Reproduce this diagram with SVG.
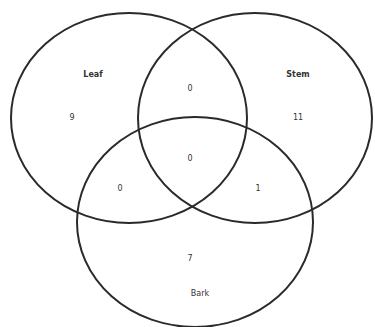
<svg xmlns="http://www.w3.org/2000/svg" width="375" height="327" viewBox="0 0 375 327">
<style>
.set{fill:none;stroke:#2a2a2a;stroke-width:2}
text{font-family:"DejaVu Sans","Liberation Sans",sans-serif;font-size:8px;fill:#333;text-anchor:middle}
.lbl{font-weight:bold}
</style>
<rect width="375" height="327" fill="#fff"/>
<g id="leaf"><ellipse class="set" cx="129" cy="118" rx="118" ry="105"/><text class="lbl" x="93" y="77">Leaf</text><text x="72" y="120">9</text></g>
<g id="stem"><ellipse class="set" cx="255" cy="118" rx="117" ry="105"/><text class="lbl" x="298" y="77">Stem</text><text x="298" y="120">11</text></g>
<g id="bark"><ellipse class="set" cx="195" cy="222" rx="118" ry="105"/><text x="200" y="296">Bark</text><text x="190" y="261">7</text></g>
<g id="overlaps">
<text x="190" y="91">0</text>
<text x="190" y="161">0</text>
<text x="120" y="191">0</text>
<text x="258" y="191">1</text>
</g>
</svg>
